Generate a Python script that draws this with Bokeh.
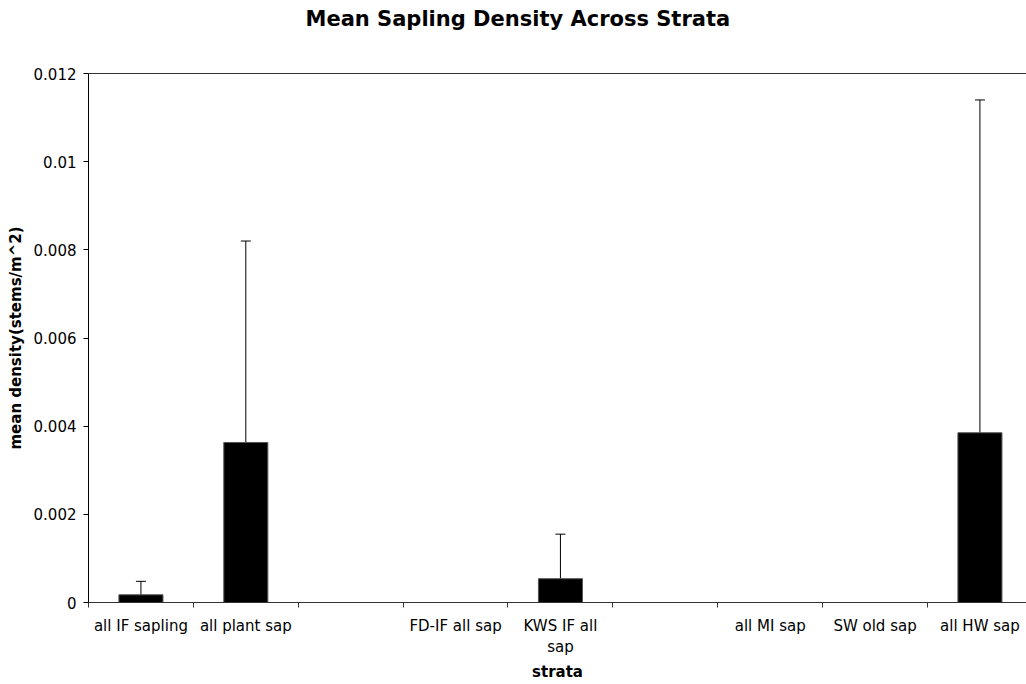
from bokeh.plotting import figure
from bokeh.models import (Range1d, FixedTicker, CustomJSTickFormatter, LinearAxis,
                          Whisker, ColumnDataSource, TeeHead, Title)
from bokeh.embed import file_html
from bokeh.resources import INLINE

# ---- data ----
categories = ["all IF sapling", "all plant sap", "", "FD-IF all sap", "KWS IF all\nsap",
              "", "all MI sap", "SW old sap", "all HW sap"]
mean_density = [0.000175, 0.00363, 0.0, 0.0, 0.00054, 0.0, 0.0, 0.0, 0.00385]
upper_bound = [0.00048, 0.0082, 0.0, 0.0, 0.00155, 0.0, 0.0, 0.0, 0.0114]
y_ticks = [0.0, 0.002, 0.004, 0.006, 0.008, 0.010, 0.012]

FONT = "DejaVu Sans"
n = len(categories)
centers = [i + 0.5 for i in range(n)]
bounds = list(range(n + 1))

src = ColumnDataSource(dict(x=centers, top=mean_density, lower=mean_density, upper=upper_bound))

p = figure(width=1026, height=684, output_backend="svg", toolbar_location=None,
           x_range=Range1d(0, 8.944), y_range=Range1d(0, 0.012),
           min_border_left=88, min_border_right=0, min_border_top=0, min_border_bottom=82,
           x_axis_type=None, y_axis_type=None, title=None)
p.outline_line_color = None
p.grid.visible = False
p.background_fill_color = "white"
p.border_fill_color = "white"

# bars
p.vbar(x="x", top="top", width=0.42, source=src, fill_color="black", line_color="#555555", line_width=1)

# error bars (upper only)
w = Whisker(source=src, base="x", lower="lower", upper="upper", dimension="height",
            line_color="black", line_width=1,
            upper_head=TeeHead(size=10, line_color="black", line_width=1), lower_head=None)
p.add_layout(w)

# y axis
yax = LinearAxis(ticker=FixedTicker(ticks=y_ticks, minor_ticks=[]),
                 formatter=CustomJSTickFormatter(code="return String(parseFloat(tick.toFixed(6)));"),
                 axis_label="mean density(stems/m^2)")
yax.major_tick_out = 5
yax.major_tick_in = 0
yax.major_label_standoff = 7
yax.axis_label_standoff = 6
yax.axis_line_color = "black"
yax.major_tick_line_color = "black"
yax.major_label_text_font = FONT
yax.major_label_text_font_size = "15px"
yax.major_label_text_color = "black"
yax.axis_label_text_font = FONT
yax.axis_label_text_font_size = "15px"
yax.axis_label_text_font_style = "bold"
yax.axis_label_text_color = "black"
p.add_layout(yax, "left")

# x axis (categorical labels at centers, boundary ticks as minor ticks)
xax = LinearAxis(ticker=FixedTicker(ticks=centers, minor_ticks=bounds),
                 formatter=CustomJSTickFormatter(args=dict(labels=categories),
                                                 code="return labels[Math.floor(tick)];"),
                 axis_label="strata")
xax.major_tick_out = 0
xax.major_tick_in = 0
xax.minor_tick_out = 5
xax.minor_tick_in = 0
xax.minor_tick_line_color = "#333333"
xax.axis_line_color = "#333333"
xax.major_label_standoff = 9
xax.axis_label_standoff = 4
xax.major_label_text_font = FONT
xax.major_label_text_font_size = "15px"
xax.major_label_text_color = "black"
xax.axis_label_text_font = FONT
xax.axis_label_text_font_size = "15px"
xax.axis_label_text_font_style = "bold"
xax.axis_label_text_color = "black"
p.add_layout(xax, "below")

# top border line
tax = LinearAxis(ticker=FixedTicker(ticks=[]), major_label_text_font_size="0px")
tax.major_tick_out = 0
tax.major_tick_in = 0
tax.minor_tick_out = 0
tax.axis_line_color = "#333333"
p.add_layout(tax, "above")

# spacer between title and frame
spacer = Title(text=" ", text_font_size="36px", standoff=0)
p.add_layout(spacer, "above")

# chart title
ttl = Title(text="Mean Sapling Density Across Strata", align="left", text_font=FONT,
            text_font_size="21px", text_font_style="bold", text_color="black", standoff=0,
            offset=217)
p.add_layout(ttl, "above")

# small spacer above the title
top_pad = Title(text=" ", text_font_size="2px", standoff=0)
p.add_layout(top_pad, "above")

open("out.html", "w").write(file_html(p, INLINE))
